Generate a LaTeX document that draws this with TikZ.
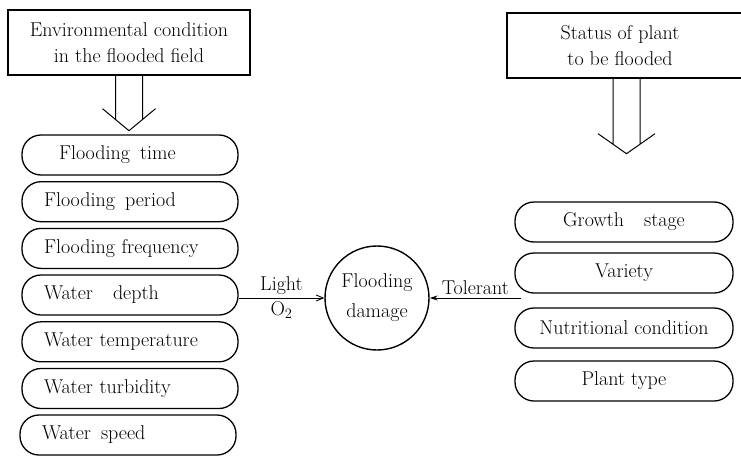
\documentclass[tikz,border=0pt]{standalone}
\usetikzlibrary{arrows.meta}
\begin{document}
\begin{tikzpicture}[x=1pt,y=-1pt,font=\fontsize{20}{26}\selectfont,
		headbox/.style={draw,line width=1.4pt,minimum width=242pt,minimum height=65pt,align=center},
		itemL/.style={draw,line width=1.3pt,rounded corners=19pt,minimum height=40pt,text width=172pt,inner xsep=22pt,align=left},
		itemR/.style={draw,line width=1.3pt,rounded corners=19pt,minimum height=40pt,minimum width=218pt,align=center},
		dmgnode/.style={draw,circle,line width=1.4pt,minimum size=104pt,align=center,font=\fontsize{20}{30}\selectfont}]
	\useasboundingbox (0,0) rectangle (741,455);
	% headings
	\node [headbox] (env) at (129,42.5) {Environmental condition\\in the flooded field};
	\node [headbox,minimum width=252pt] (sta) at (633,45.5) {Status of plant\hspace*{26pt}\\to be flooded\hspace*{26pt}};
	% hollow arrows
	\draw [line width=1pt] ([xshift=-13.5pt]env.south) -- ++(0,43.8)
		([xshift=13.5pt]env.south) -- ++(0,43.8)
		([xshift=-26.5pt,yshift=-33pt]env.south) -- ++(26.5,22) -- ++(26.5,-22);
	\draw [line width=1pt] ([xshift=-20pt]sta.south) -- ++(0,65.5)
		([xshift=7pt]sta.south) -- ++(0,65.5)
		([xshift=-35pt,yshift=-55pt]sta.south) -- ++(28.5,20) -- ++(28.5,-20);
	% field conditions
	\node [itemL] (ft) at (130,155) {\hspace*{15pt}Flooding\enspace time};
	\node [itemL] (fp) at (130,201.7) {Flooding\enspace period};
	\node [itemL] (ff) at (130,248.4) {Flooding frequency};
	\node [itemL] (wd) at (130,295) {Water\quad depth};
	\node [itemL] (wt) at (130,341.8) {Water temperature};
	\node [itemL] (wtb) at (130,388.5) {Water turbidity};
	\node [itemL] (ws) at (128,435) {Water\enspace speed};
	% plant status
	\node [itemR] (gs) at (624,222) {Growth\quad stage};
	\node [itemR] (var) at (624,273) {Variety};
	\node [itemR] (nut) at (624,328) {Nutritional condition};
	\node [itemR] (pt) at (624,381) {Plant type};
	% damage
	\node [dmgnode] (dmg) at (377,298) {Flooding\\damage};
	\coordinate (tol) at (521,298);
	\draw [line width=0.9pt,-{Straight Barb[length=7pt,width=6pt]}] (wd.east |- dmg.west) -- (dmg.west)
		node [midway,above] {Light} node [midway,below] {O$_2$};
	\draw [line width=0.9pt,-{Stealth[length=8pt,width=5pt]}] (tol) -- (dmg.east)
		node [midway,above] {Tolerant};
\end{tikzpicture}
\end{document}
